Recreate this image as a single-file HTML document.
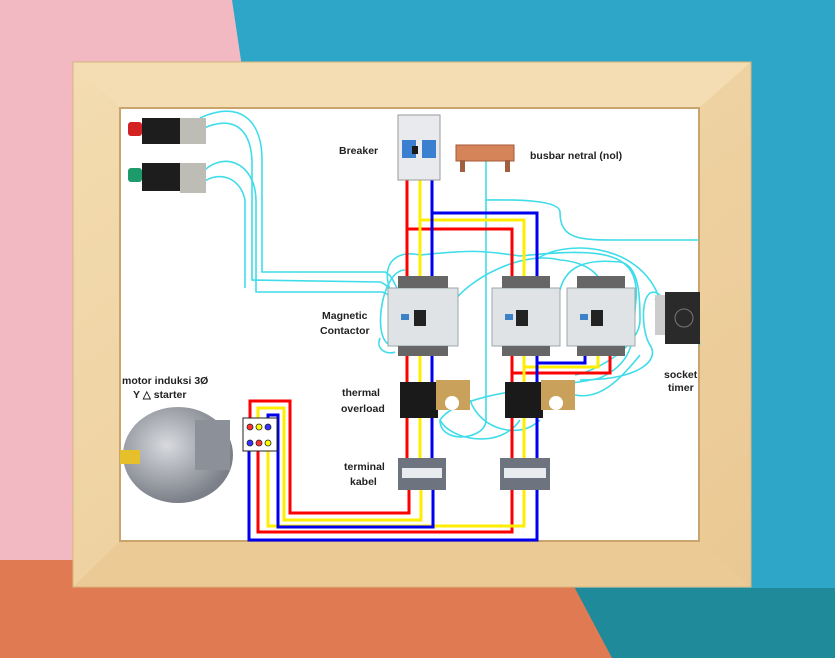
<!DOCTYPE html>
<html><head><meta charset="utf-8"><style>
html,body{margin:0;padding:0;width:835px;height:658px;overflow:hidden}
svg{display:block}
text{font-family:"Liberation Sans",sans-serif;font-weight:bold;font-size:10.5px;fill:#222}
</style></head><body>
<svg width="835" height="658" viewBox="0 0 835 658" xmlns="http://www.w3.org/2000/svg">
<defs>
<linearGradient id="wood" x1="0" y1="0" x2="1" y2="1"><stop offset="0" stop-color="#f3dcb0"/><stop offset="1" stop-color="#eac893"/></linearGradient>
<radialGradient id="mot" cx="0.4" cy="0.4" r="0.6"><stop offset="0" stop-color="#d8dade"/><stop offset="1" stop-color="#7b7f88"/></radialGradient>
</defs>
<rect width="835" height="658" fill="#2ea6c8"/>
<polygon points="0,0 232,0 330,658 0,658" fill="#f2b9c3"/>
<polygon points="572,588 835,588 835,658 612,658" fill="#1f8a9a"/>
<polygon points="0,560 560,560 612,658 0,658" fill="#e07a52"/>
<!-- frame -->
<rect x="73" y="62" width="678" height="525" fill="url(#wood)"/>
<polygon points="73,62 751,62 699,108 120,108" fill="#f4ddb2"/>
<polygon points="73,587 751,587 699,541 120,541" fill="#ebca96"/>
<rect x="73" y="62" width="678" height="525" fill="none" stroke="#d9b57c" stroke-width="1"/>
<rect x="120" y="108" width="579" height="433" fill="#fff" stroke="#c9a46c" stroke-width="2"/>
<!-- cyan wires -->
<g fill="none" stroke="#3fdcea" stroke-width="1.6">
<path d="M200 118 C240 100 262 120 262 160 L262 272 L385 272 C392 275 395 285 398 290"/>
<path d="M200 130 C230 115 250 125 252 160 L252 280 L380 282 C390 285 392 295 395 300"/>
<path d="M200 175 C220 150 255 160 256 200 L256 292 L382 292 C392 295 394 300 398 310"/>
<path d="M200 185 C215 170 240 175 245 200 L245 288"/>
<path d="M486 160 L486 200 C500 200 560 198 560 212 C560 240 580 240 620 240 L699 240"/>
<path d="M486 200 L486 420 C486 440 440 445 440 420"/>
<path d="M390 290 C380 260 400 250 420 255 C470 250 480 250 520 256 C600 248 640 250 636 300 C632 330 640 360 600 378 C560 388 460 390 440 420 C450 440 500 450 520 420"/>
<path d="M395 345 C370 350 380 270 405 270 M455 300 C470 280 520 250 560 260 C590 262 610 280 600 300"/>
<path d="M380 338 C375 350 388 355 395 352 M560 290 C565 270 580 258 620 262 C640 265 640 300 640 320 C640 345 600 370 575 375"/>
<path d="M660 295 C640 280 640 330 650 345 C660 360 640 380 580 380 M700 345 C690 300 660 290 655 300"/>
<path d="M470 400 C480 430 520 440 540 420 M575 395 C600 400 620 380 640 355"/>
<path d="M536 260 C560 240 640 240 660 300"/>
</g>
<!-- colored wires -->
<g fill="none" stroke-width="3">
<path stroke="#ff0000" d="M407 180 L407 480 M407 229 L512 229 L512 480 M512 373 L610 373 L610 340 M409 490 L409 513 L290 513 L290 401 L250 401 L250 420 M512 490 L512 532 L258 532 L258 450"/>
<path stroke="#ffee00" d="M420 180 L420 480 M420 220 L524 220 L524 480 M524 367 L598 367 L598 340 M421 490 L421 520 L284 520 L284 408 L258 408 L258 420 M524 490 L524 526 L268 526 L268 450 M585 300 L585 287 L610 287 L610 300 M598 287 L598 300"/>
<path stroke="#0000ee" d="M432 180 L432 480 M432 213 L537 213 L537 480 M537 357 L537 363 L585 363 L585 340 M433 490 L433 527 L278 527 L278 415 L268 415 L268 420 M537 490 L537 540 L249 540 L249 450"/>
</g>
<!-- breaker -->
<rect x="398" y="115" width="42" height="65" fill="#e8eaee" stroke="#999"/>
<rect x="402" y="140" width="14" height="18" fill="#3a7fd0"/><rect x="422" y="140" width="14" height="18" fill="#3a7fd0"/>
<rect x="412" y="146" width="6" height="8" fill="#1a1a1a"/>
<!-- busbar -->
<rect x="456" y="145" width="58" height="16" fill="#d5845a" stroke="#a35a35"/>
<rect x="460" y="160" width="5" height="12" fill="#a06040"/><rect x="505" y="160" width="5" height="12" fill="#a06040"/>
<!-- pushbuttons -->
<g><rect x="128" y="122" width="14" height="14" rx="3" fill="#d32222"/><rect x="142" y="118" width="38" height="26" fill="#1d1d1d"/><rect x="180" y="118" width="26" height="26" fill="#bdbdb5"/></g>
<g><rect x="128" y="168" width="14" height="14" rx="3" fill="#1e9b6a"/><rect x="142" y="163" width="38" height="28" fill="#1d1d1d"/><rect x="180" y="163" width="26" height="30" fill="#bdbdb5"/></g>
<!-- contactors -->
<g fill="#dfe3e6" stroke="#9aa"><rect x="388" y="288" width="70" height="58"/><rect x="492" y="288" width="68" height="58"/><rect x="567" y="288" width="68" height="58"/></g>
<g fill="#666"><rect x="398" y="276" width="50" height="12"/><rect x="502" y="276" width="48" height="12"/><rect x="577" y="276" width="48" height="12"/>
<rect x="398" y="346" width="50" height="10"/><rect x="502" y="346" width="48" height="10"/><rect x="577" y="346" width="48" height="10"/></g>
<g fill="#222"><rect x="414" y="310" width="12" height="16"/><rect x="516" y="310" width="12" height="16"/><rect x="591" y="310" width="12" height="16"/></g>
<g fill="#3b82c8"><rect x="401" y="314" width="8" height="6"/><rect x="505" y="314" width="8" height="6"/><rect x="580" y="314" width="8" height="6"/></g>
<!-- timer -->
<rect x="655" y="295" width="12" height="40" fill="#ccc"/>
<rect x="665" y="292" width="35" height="52" fill="#2a2a2a"/><circle cx="684" cy="318" r="9" fill="none" stroke="#777"/>
<!-- thermal overload -->
<g><rect x="400" y="382" width="38" height="36" fill="#1a1a1a"/><rect x="436" y="380" width="34" height="30" fill="#c9a15a"/><circle cx="452" cy="403" r="7" fill="#fff"/></g>
<g><rect x="505" y="382" width="38" height="36" fill="#1a1a1a"/><rect x="541" y="380" width="34" height="30" fill="#c9a15a"/><circle cx="556" cy="403" r="7" fill="#fff"/></g>
<!-- terminal blocks -->
<rect x="398" y="458" width="48" height="32" fill="#6d7480"/><rect x="402" y="468" width="40" height="10" fill="#e9ecef"/>
<rect x="500" y="458" width="50" height="32" fill="#6d7480"/><rect x="504" y="468" width="42" height="10" fill="#e9ecef"/>
<!-- motor box -->
<rect x="243" y="418" width="34" height="33" fill="#fff" stroke="#222"/>
<g stroke="#222" stroke-width="0.8"><circle cx="250" cy="427" r="3" fill="#f33"/><circle cx="259" cy="427" r="3" fill="#ff0"/><circle cx="268" cy="427" r="3" fill="#33f"/>
<circle cx="250" cy="443" r="3" fill="#33f"/><circle cx="259" cy="443" r="3" fill="#f33"/><circle cx="268" cy="443" r="3" fill="#ff0"/></g>
<!-- motor -->
<ellipse cx="178" cy="455" rx="55" ry="48" fill="url(#mot)"/>
<rect x="120" y="450" width="20" height="14" fill="#e6c02a"/>
<rect x="195" y="420" width="35" height="50" fill="#8c9099"/>
<!-- labels -->
<text x="339" y="154">Breaker</text>
<text x="530" y="159">busbar netral (nol)</text>
<text x="322" y="319">Magnetic</text>
<text x="320" y="334">Contactor</text>
<text x="122" y="384">motor  induksi  3Ø</text>
<text x="133" y="398">Y △ starter</text>
<text x="342" y="396">thermal</text>
<text x="341" y="412">overload</text>
<text x="344" y="470">terminal</text>
<text x="350" y="485">kabel</text>
<text x="664" y="378">socket</text>
<text x="668" y="391">timer</text>
</svg>
</body></html>
